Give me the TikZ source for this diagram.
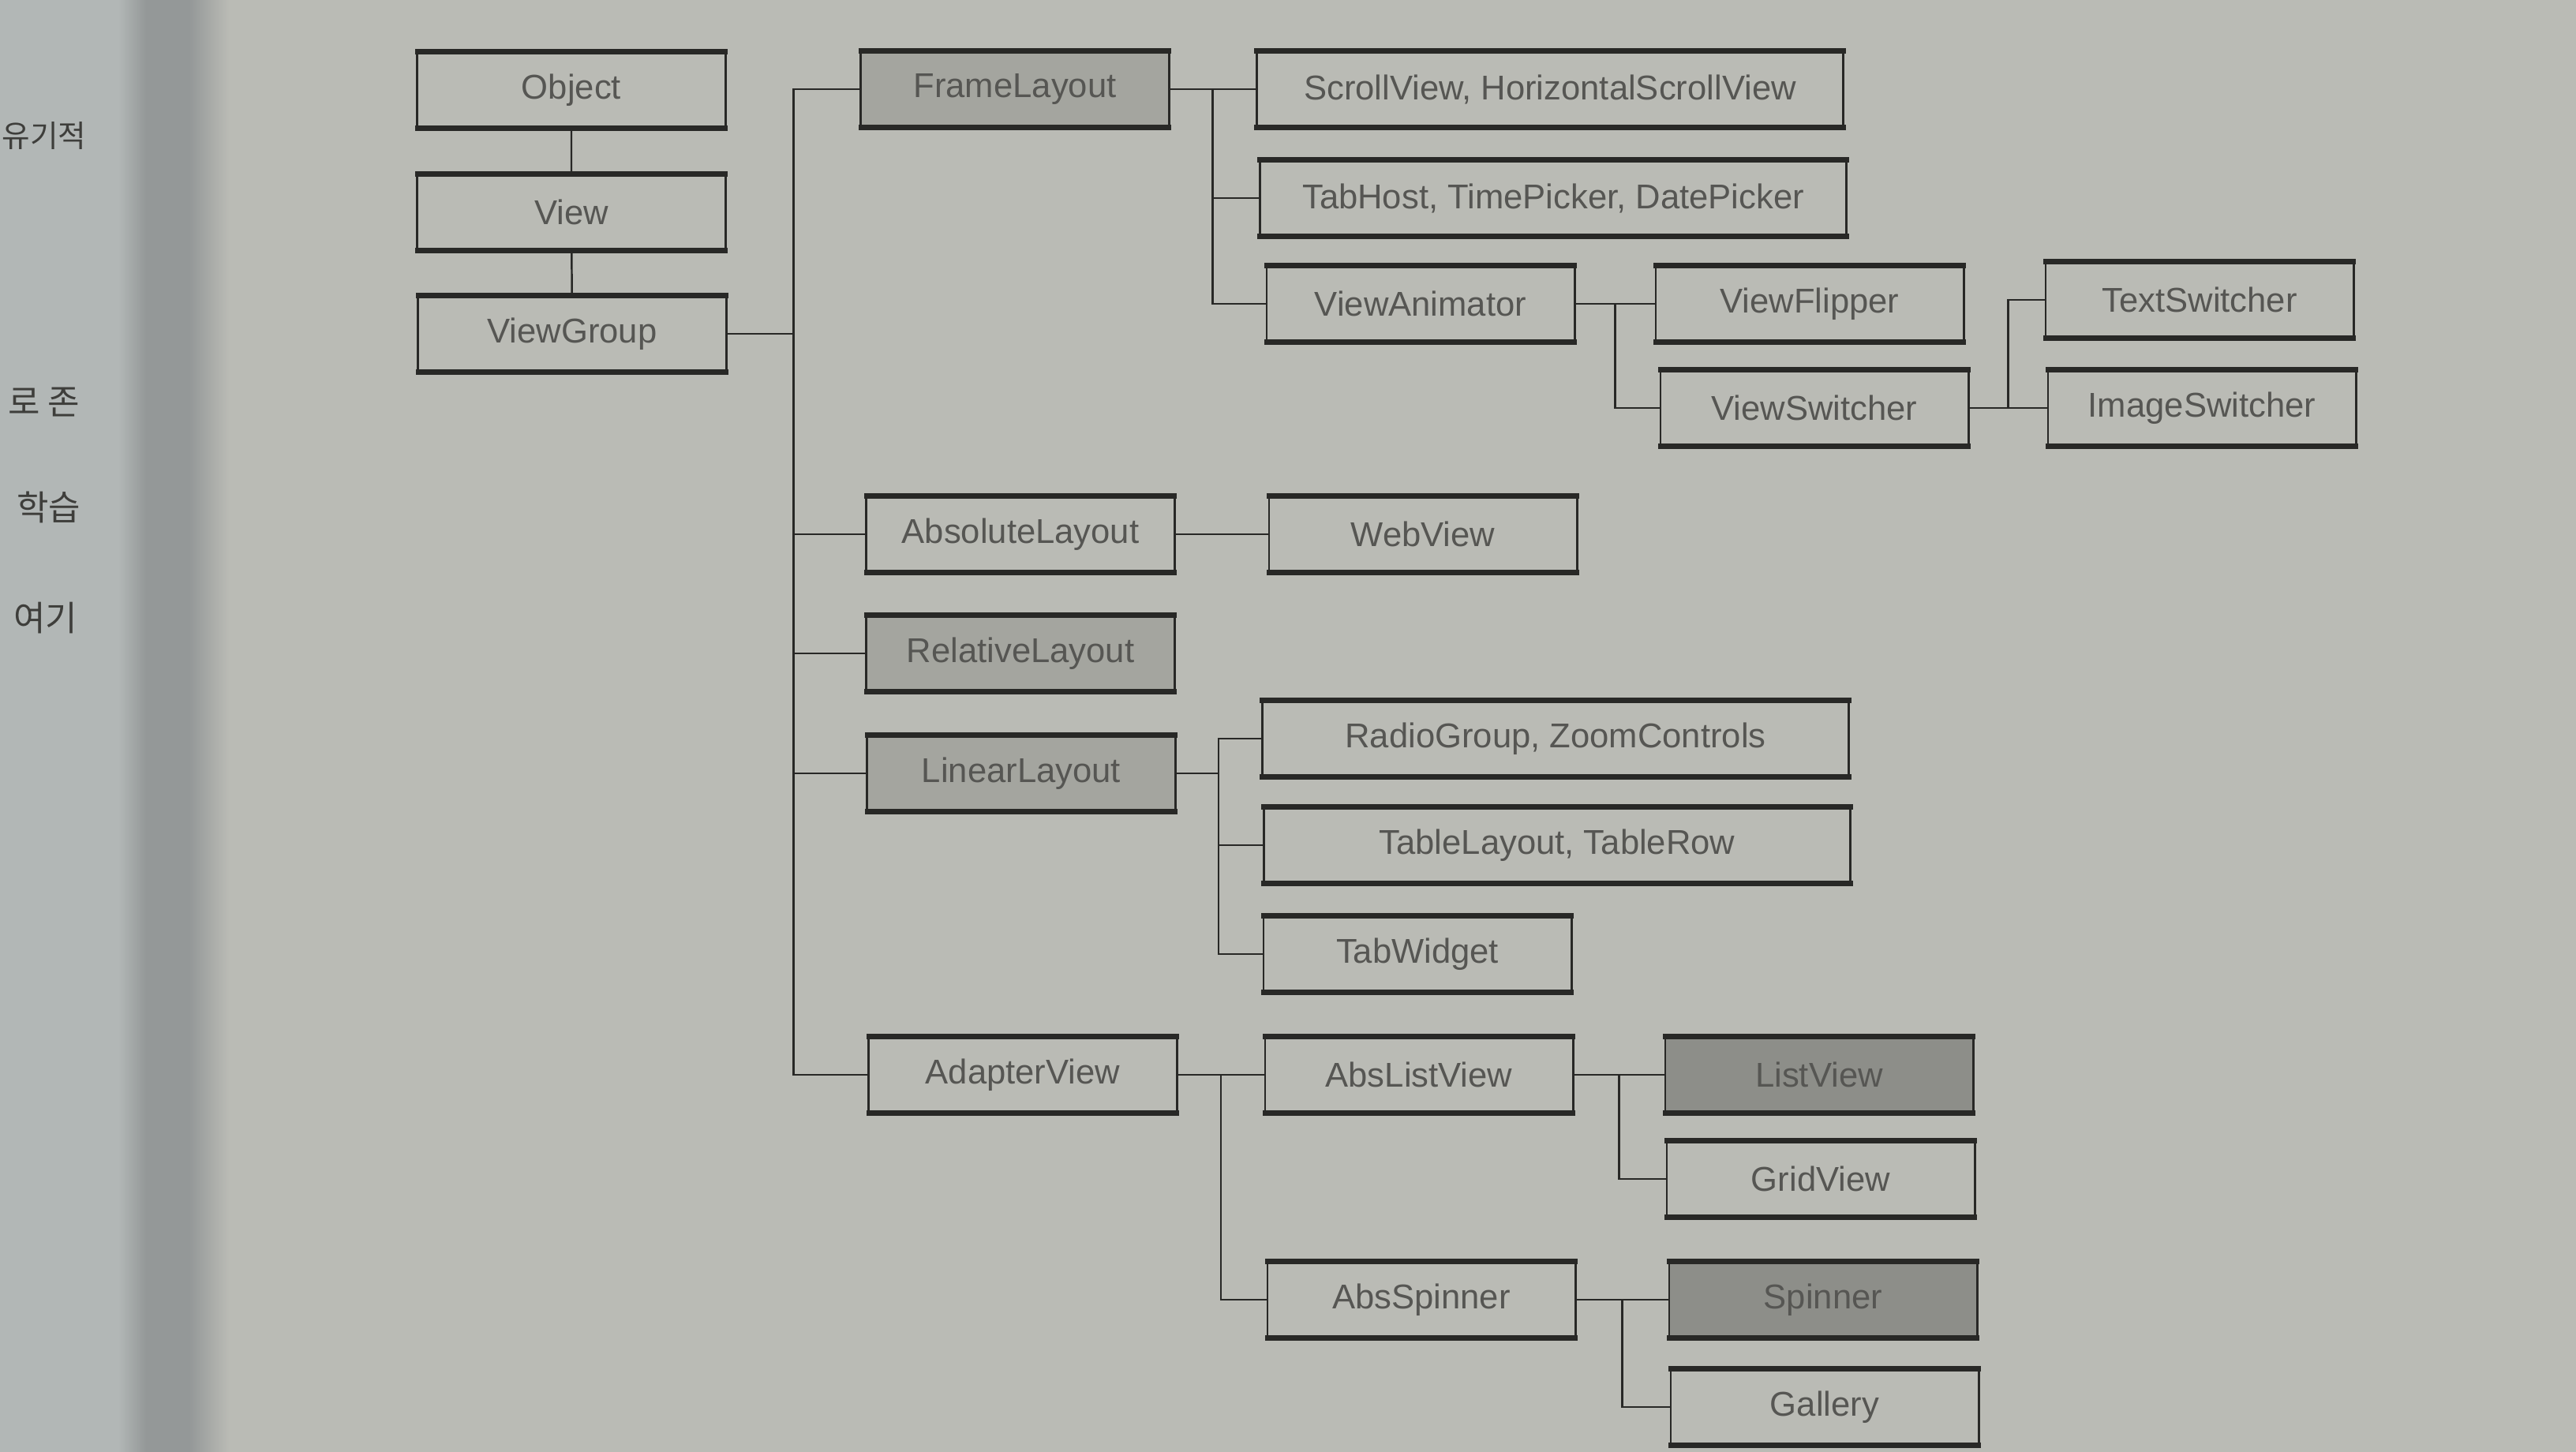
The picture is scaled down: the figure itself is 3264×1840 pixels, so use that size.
\documentclass[tikz,border=0pt]{standalone}
\usepackage{fontspec}
\setmainfont{Liberation Sans}
\newfontfamily\krfont{Noto Sans CJK KR}
\usepackage{tikz}
\usetikzlibrary{positioning,calc}

\definecolor{paper}{RGB}{186,187,181}
\definecolor{leftpaper}{RGB}{178,183,182}
\definecolor{gutter}{RGB}{148,152,152}
\definecolor{ink}{RGB}{40,40,38}
\definecolor{label}{RGB}{86,86,83}
\definecolor{midfill}{RGB}{164,165,159}
\definecolor{darkfill}{RGB}{141,142,137}

\begin{document}
\begin{tikzpicture}[
    x=0.01cm, y=-0.01cm,
    every node/.style={font=\fontsize{12.4}{14}\selectfont, text=label},
    rim/.style={draw=ink, line width=1.8pt, shorten <=-0.4pt, shorten >=-0.4pt},
    cls/.style={draw=ink, line width=0.8pt, fill=paper, minimum width=3.9cm, minimum height=0.94cm, inner sep=0pt,
        append after command={(\tikzlastnode.north west) edge[rim] (\tikzlastnode.north east)
                              (\tikzlastnode.south west) edge[rim] (\tikzlastnode.south east)}},
    wide/.style={cls, minimum width=7.43cm},
    layout/.style={cls, fill=midfill},
    widget/.style={cls, fill=darkfill},
    link/.style={draw=ink, line width=0.7pt},
    margin text/.style={font=\krfont\fontsize{12.5}{15}\selectfont, text=ink!85!paper, anchor=east, inner sep=0pt}
]
    % page and gutter
    \fill[paper] (0,0) rectangle (3264,1840);
    \fill[leftpaper] (0,0) rectangle (150,1840);
    \shade[left color=leftpaper, right color=gutter] (150,0) rectangle (185,1840);
    \fill[gutter] (185,0) rectangle (240,1840);
    \shade[left color=gutter, right color=paper] (240,0) rectangle (290,1840);
    \useasboundingbox (0,0) rectangle (3264,1840);

    % text of the facing page
    \node[margin text, anchor=west, font=\krfont\fontsize{11}{14}\selectfont] (m1) at (2,172) {유기적};
    \node[margin text] (m2) at (102,510) {로 존};
    \node[margin text] (m3) at (103,643) {학습};
    \node[margin text] (m4) at (99,783) {여기};

    % root chain
    \node[cls] (obj) at (724,114) {Object};
    \node[cls] (view) at (724,269) {View};
    \node[cls] (vgroup) at (725,423) {ViewGroup};

    % FrameLayout branch
    \node[layout] (frame) at (1286,113) {FrameLayout};
    \node[wide] (scroll) at (1964,113) {ScrollView, HorizontalScrollView};
    \node[wide] (tabhost) at (1968,251) {TabHost, TimePicker, DatePicker};
    \node[cls] (anim) at (1800,385) {ViewAnimator};
    \node[cls] (flipper) at (2293,385) {ViewFlipper};
    \node[cls] (vswitch) at (2299,517) {ViewSwitcher};
    \node[cls] (tswitch) at (2787,380) {TextSwitcher};
    \node[cls] (iswitch) at (2790,517) {ImageSwitcher};

    % other layouts
    \node[cls] (abslay) at (1293,677) {AbsoluteLayout};
    \node[cls] (web) at (1803,677) {WebView};
    \node[layout] (rel) at (1293,828) {RelativeLayout};
    \node[layout] (lin) at (1294,980) {LinearLayout};
    \node[wide] (radio) at (1971,936) {RadioGroup, ZoomControls};
    \node[wide] (table) at (1973,1071) {TableLayout, TableRow};
    \node[cls] (tabw) at (1796,1209) {TabWidget};

    % AdapterView branch
    \node[cls] (adapter) at (1296,1362) {AdapterView};
    \node[cls] (alist) at (1798,1362) {AbsListView};
    \node[widget] (listv) at (2305,1362) {ListView};
    \node[cls] (grid) at (2307,1494) {GridView};
    \node[cls] (aspin) at (1801,1647) {AbsSpinner};
    \node[widget] (spin) at (2310,1647) {Spinner};
    \node[cls] (gallery) at (2312,1783) {Gallery};

    % connectors
    \draw[link] (obj) -- (view) -- (vgroup);
    \draw[link] (abslay) -- (web);

    \coordinate (trunk) at ($(vgroup.east)!0.5!(frame.west)$);
    \coordinate (fbus) at ($(frame.east)!0.5!(scroll.west)$);
    \coordinate (abus) at ($(anim.east)!0.5!(flipper.west)$);
    \coordinate (sbus) at ($(vswitch.east)!0.5!(iswitch.west)$);
    \coordinate (lbus) at ($(lin.east)!0.5!(radio.west)$);
    \coordinate (dbus) at ($(adapter.east)!0.5!(alist.west)$);
    \coordinate (cbus) at ($(alist.east)!0.5!(listv.west)$);
    \coordinate (pbus) at ($(aspin.east)!0.5!(spin.west)$);

    \foreach \c in {frame,abslay,rel,lin,adapter}
        \draw[link] (vgroup.east) -| (trunk) |- (\c.west);
    \foreach \c in {scroll,tabhost,anim}
        \draw[link] (frame.east) -| (fbus) |- (\c.west);
    \foreach \c in {flipper,vswitch}
        \draw[link] (anim.east) -| (abus) |- (\c.west);
    \foreach \c in {tswitch,iswitch}
        \draw[link] (vswitch.east) -| (sbus) |- (\c.west);
    \foreach \c in {radio,table,tabw}
        \draw[link] (lin.east) -| (lbus) |- (\c.west);
    \foreach \c in {alist,aspin}
        \draw[link] (adapter.east) -| (dbus) |- (\c.west);
    \foreach \c in {listv,grid}
        \draw[link] (alist.east) -| (cbus) |- (\c.west);
    \foreach \c in {spin,gallery}
        \draw[link] (aspin.east) -| (pbus) |- (\c.west);
\end{tikzpicture}
\end{document}
